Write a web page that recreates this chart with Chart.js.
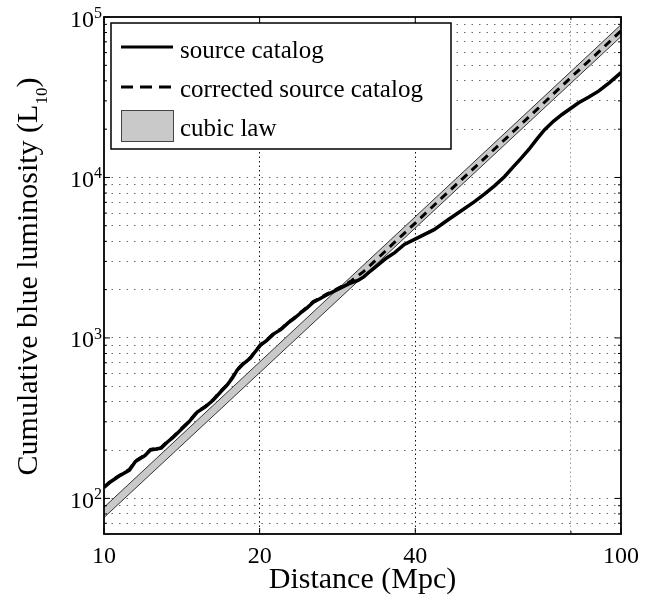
<!DOCTYPE html>
<html lang="en">
<head>
<meta charset="UTF-8">
<title>Cumulative blue luminosity</title>
<style>
    body { margin: 0; background: #fff; }
    .chart-container { position: relative; width: 666px; height: 602px; }
</style>
</head>
<body>
<div class="chart-container">
    <canvas id="chartArea"></canvas>
</div>

<script src="https://cdn.jsdelivr.net/npm/chart.js@4.4.0/dist/chart.umd.min.js"></script>
<script>
    // values (distance in Mpc, luminosity in L10)
    var sourceDistance = [10, 10.3, 10.7, 11.2, 11.5, 12.0, 12.3, 12.9, 13.25, 13.6, 14.05, 14.6, 15.15, 15.7, 16.27, 16.8,
        17.3, 17.7, 18.1, 18.6, 19.2, 19.6, 20.1, 20.6, 21.3, 22.0, 22.7, 23.3, 24.0, 24.7, 25.4, 26.2, 27.0, 28.7,
        30.0, 31.0, 31.8, 32.8, 33.9, 35.2, 36.5, 38.1, 40.5, 43.5, 46.3, 49.1, 52.0, 54.5, 57.0, 59.5, 61.5, 64.0,
        66.4, 68.8, 71.1, 74.0, 76.9, 82.8, 86.5, 90.5, 95.0, 100];
    var sourceLum = [117, 127, 138, 150, 170, 185, 200, 206, 224, 240, 266, 300, 345, 372, 410, 460,
        508, 560, 631, 690, 750, 820, 905, 960, 1060, 1130, 1240, 1320, 1430, 1540, 1670, 1760, 1860, 2050,
        2200, 2280, 2400, 2620, 2850, 3150, 3400, 3820, 4220, 4730, 5450, 6200, 7050, 7900, 8900, 10100, 11400, 13100,
        15000, 17400, 19800, 22400, 24700, 29200, 31600, 34500, 39000, 45000];

    var correctedDistance = [10, 10.3, 10.7, 11.2, 11.5, 12.0, 12.3, 12.9, 13.25, 13.6, 14.05, 14.6, 15.15, 15.7, 16.27, 16.8,
        17.3, 17.7, 18.1, 18.6, 19.2, 19.6, 20.1, 20.6, 21.3, 22.0, 22.7, 23.3, 24.0, 24.7, 25.4, 26.2, 27.0, 28.7,
        30.0, 31.8, 33.9, 36.5, 40, 45, 50, 60, 70, 80, 90, 100];
    var correctedLum = [118, 128, 139, 152, 171, 187, 202, 208, 226, 242, 268, 302, 348, 375, 414, 465,
        512, 566, 636, 696, 756, 828, 912, 968, 1070, 1140, 1250, 1330, 1445, 1555, 1690, 1780, 1880, 2080,
        2250, 2600, 3150, 3950, 5200, 7450, 10200, 17600, 28000, 42000, 59500, 82000];

    var cubicDistance = [10, 100];
    var cubicLow = [76, 75500];
    var cubicHigh = [88, 89500];

    var xTickLabels = [10, 20, 40, 100];
    var xGridLines = [20, 40, 80];
    var yDecades = [100, 1000, 10000, 100000];

    var serif = "'Liberation Serif', 'Times New Roman', serif";

    function points(xs, ys) {
        return xs.map(function (x, i) { return {x: x, y: ys[i]}; });
    }

    function yGridLines() {
        var vals = [70, 80, 90];
        [100, 1000, 10000].forEach(function (d) {
            for (var k = 1; k <= 9; k++) vals.push(k * d);
        });
        return vals;
    }

    const decorPlugin = {
        id: 'decor',
        afterDatasetsDraw(chart) {
            const ctx = chart.ctx;
            const a = chart.chartArea;
            const xs = chart.scales.x, ys = chart.scales.y;
            ctx.save();

            // frame
            ctx.strokeStyle = '#000';
            ctx.lineWidth = 1.8;
            ctx.strokeRect(a.left, a.top, a.right - a.left, a.bottom - a.top);

            // inward tick marks
            ctx.lineWidth = 1;
            xTickLabels.concat([80]).forEach(function (v) {
                var px = xs.getPixelForValue(v);
                var len = v == 80 ? 3 : 6;
                ctx.beginPath();
                ctx.moveTo(px, a.bottom); ctx.lineTo(px, a.bottom - len);
                ctx.moveTo(px, a.top); ctx.lineTo(px, a.top + len);
                ctx.stroke();
            });
            yGridLines().concat([100000]).forEach(function (v) {
                var py = ys.getPixelForValue(v);
                var len = yDecades.indexOf(v) >= 0 ? 6 : 3;
                ctx.beginPath();
                ctx.moveTo(a.left, py); ctx.lineTo(a.left + len, py);
                ctx.moveTo(a.right, py); ctx.lineTo(a.right - len, py);
                ctx.stroke();
            });

            // tick labels
            ctx.fillStyle = '#000';
            ctx.font = '24px ' + serif;
            ctx.textAlign = 'center';
            ctx.textBaseline = 'alphabetic';
            xTickLabels.forEach(function (v) {
                ctx.fillText(String(v), xs.getPixelForValue(v), a.bottom + 29);
            });
            yDecades.forEach(function (v) {
                var py = ys.getPixelForValue(v);
                ctx.font = '24px ' + serif;
                ctx.textAlign = 'right';
                ctx.fillText('10', a.left - 10, py + 9.5);
                ctx.font = '16px ' + serif;
                ctx.textAlign = 'left';
                ctx.fillText(String(Math.round(Math.log10(v))), a.left - 10, py + 1);
            });

            // axis titles
            ctx.font = '30px ' + serif;
            ctx.textAlign = 'center';
            ctx.fillText('Distance (Mpc)', (a.left + a.right) / 2, a.bottom + 54);

            ctx.translate(37, (a.top + a.bottom) / 2 + 1);
            ctx.rotate(-Math.PI / 2);
            var main = 'Cumulative blue luminosity (L', sub = '10', close = ')';
            ctx.font = '30px ' + serif;
            var w1 = ctx.measureText(main).width, w3 = ctx.measureText(close).width;
            ctx.font = '17px ' + serif;
            var w2 = ctx.measureText(sub).width;
            var x0 = -(w1 + w2 + w3) / 2;
            ctx.textAlign = 'left';
            ctx.font = '30px ' + serif;
            ctx.fillText(main, x0, 0);
            ctx.font = '17px ' + serif;
            ctx.fillText(sub, x0 + w1, 10);
            ctx.font = '30px ' + serif;
            ctx.fillText(close, x0 + w1 + w2, 0);
            ctx.restore();
        },
        afterDraw(chart) {
            // legend box in the upper left of the axes
            const ctx = chart.ctx;
            const ds = chart.data.datasets;
            ctx.save();
            ctx.fillStyle = '#fff';
            ctx.fillRect(111, 23, 340, 126);
            ctx.strokeStyle = '#000';
            ctx.lineWidth = 1.5;
            ctx.strokeRect(111, 23, 340, 126);

            ctx.lineWidth = 3;
            ctx.beginPath();
            ctx.moveTo(121, 47); ctx.lineTo(173, 47);
            ctx.stroke();
            ctx.setLineDash([12, 7]);
            ctx.beginPath();
            ctx.moveTo(121, 87); ctx.lineTo(173, 87);
            ctx.stroke();
            ctx.setLineDash([]);
            ctx.fillStyle = '#c9c9c9';
            ctx.fillRect(121, 110, 52, 31);
            ctx.lineWidth = 1;
            ctx.strokeStyle = '#444';
            ctx.strokeRect(121.5, 110.5, 52, 31);

            ctx.fillStyle = '#000';
            ctx.font = '25px ' + serif;
            ctx.textAlign = 'left';
            ctx.textBaseline = 'alphabetic';
            ctx.fillText(ds[0].label, 180, 58);
            ctx.fillText(ds[1].label, 180, 97);
            ctx.fillText(ds[3].label, 180, 136);
            ctx.restore();
        }
    };

    const data = {
        datasets: [
            {
                label: 'source catalog',
                data: points(sourceDistance, sourceLum),
                borderColor: '#000',
                borderWidth: 3.5,
                pointRadius: 0,
                fill: false,
                order: 1
            },
            {
                label: 'corrected source catalog',
                data: points(correctedDistance, correctedLum),
                borderColor: '#000',
                borderWidth: 3,
                borderDash: [8, 6],
                pointRadius: 0,
                fill: false,
                order: 0
            },
            {
                label: 'cubic law low',
                data: points(cubicDistance, cubicLow),
                borderColor: '#333',
                borderWidth: 1,
                pointRadius: 0,
                fill: false,
                order: 2
            },
            {
                label: 'cubic law',
                data: points(cubicDistance, cubicHigh),
                borderColor: '#333',
                borderWidth: 1,
                backgroundColor: '#c9c9c9',
                pointRadius: 0,
                fill: '-1',
                order: 3
            }
        ]
    };

    const config = {
        type: 'line',
        data: data,
        plugins: [decorPlugin],
        options: {
            responsive: true,
            maintainAspectRatio: false,
            animation: false,
            layout: { padding: { left: 104, top: 17, right: 45, bottom: 68 } },
            plugins: {
                legend: { display: false },
                tooltip: { enabled: false },
                filler: { propagate: false }
            },
            scales: {
                x: {
                    type: 'logarithmic',
                    min: 10,
                    max: 100,
                    afterBuildTicks: function (s) { s.ticks = xGridLines.map(function (v) { return {value: v}; }); },
                    ticks: { display: false },
                    grid: {
                        drawTicks: false,
                        lineWidth: 1,
                        color: function (c) { return c.tick && c.tick.value == 80 ? '#9a9a9a' : '#111'; }
                    },
                    border: { display: false, dash: [1.5, 3] }
                },
                y: {
                    type: 'logarithmic',
                    min: 60,
                    max: 100000,
                    afterBuildTicks: function (s) { s.ticks = yGridLines().map(function (v) { return {value: v}; }); },
                    ticks: { display: false },
                    grid: { drawTicks: false, lineWidth: 1, color: '#6a6a6a' },
                    border: { display: false, dash: [1.5, 6] }
                }
            }
        }
    };

    var myChart = new Chart(document.getElementById('chartArea'), config);
</script>
</body>
</html>
